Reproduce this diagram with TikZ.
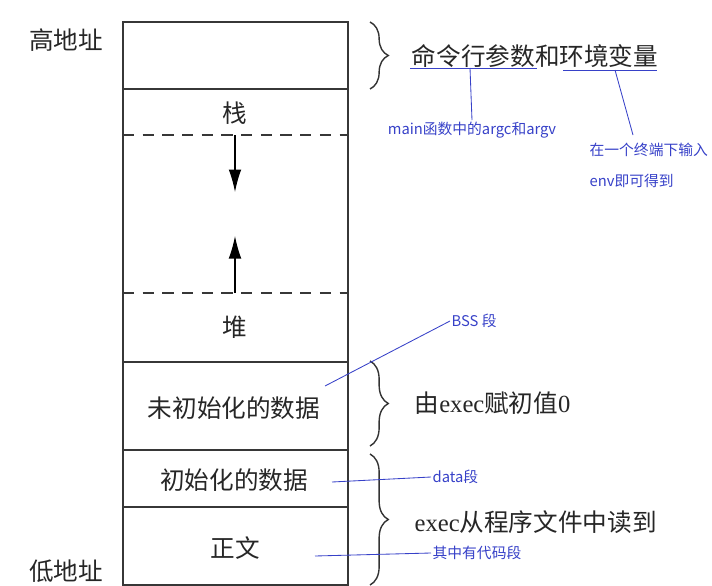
\documentclass[tikz,border=0pt]{standalone}
\usepackage{fontspec}
\newfontfamily\cjk{Noto Sans CJK SC}
\newfontfamily\serifl{Liberation Serif}
\usetikzlibrary{arrows.meta,decorations.pathreplacing,positioning}
\definecolor{memline}{RGB}{55,55,55}
\definecolor{noteblue}{RGB}{55,65,200}

\begin{document}
\begin{tikzpicture}[x=0.025cm,y=-0.025cm,
  every node/.style={font=\cjk\fontsize{17.5}{20}\selectfont,text=black!85,inner sep=1pt},
  note/.style={font=\cjk\fontsize{10.5}{12}\selectfont,text=noteblue},
  noteline/.style={draw=noteblue,line width=0.6pt},
  sepline/.style={draw=memline,line width=1.3pt},
  gapline/.style={draw=memline,line width=1.6pt,dash pattern=on 8pt off 6pt},
  growarrow/.style={draw=black,line width=0.8pt,-{Latex[length=16pt,width=9pt]}},
  rbrace/.style={draw=black!80,line width=1pt,decorate,decoration={brace,amplitude=13pt}}]
\useasboundingbox (0,0) rectangle (712,586);
% memory layout
\draw[sepline] (123,22) rectangle (348,585);
\draw[sepline] (123,89) -- (348,89);
\draw[sepline] (123,362) -- (348,362);
\draw[sepline] (123,450) -- (348,450);
\draw[sepline] (123,507) -- (348,507);
\draw[gapline] (123,135) -- (348,135);
\draw[gapline] (123,293) -- (348,293);
\coordinate (stacktop) at (235,135);
\coordinate (stackend) at (235,192);
\coordinate (heaptop) at (235,293);
\coordinate (heapend) at (235,236);
\draw[growarrow] (stacktop) -- (stackend);
\draw[growarrow] (heaptop) -- (heapend);
% segment names
\node (hi) at (66,40) {高地址};
\node (lo) at (66,571) {低地址};
\node (stack) at (235,113) {栈};
\node (heap) at (235,327) {堆};
\node (bss) at (234,408) {未初始化的数据};
\node (data) at (234,480) {初始化的数据};
\node (text) at (235,548) {正文};
% braces
\draw[rbrace] (370,22) -- (370,89);
\draw[rbrace] (370,361) -- (370,446);
\draw[rbrace] (370,454) -- (370,585);
\node (args) at (535,56) {命令行参数和环境变量};
\node[anchor=west] (bssinit) at (413,403) {由{\serifl exec}赋初值{\serifl 0}};
\node[anchor=west] (fromfile) at (413,522) {{\serifl exec}从程序文件中读到};
% blue notes
\node[note] (argvnote) at (472,130) {main函数中的argc和argv};
\node[note,anchor=west] (envnote) at (588,150) {在一个终端下输入};
\node[note,anchor=west] (envnote2) at (588,181) {env即可得到};
\node[note,anchor=west] (bssnote) at (450,321) {BSS 段};
\node[note,anchor=west] (datanote) at (431,477) {data段};
\node[note,anchor=west] (codenote) at (431,553) {其中有代码段};
\coordinate (ul1a) at (410,68);
\coordinate (ul1b) at (537,68);
\coordinate (ul2a) at (563,70);
\coordinate (ul2b) at (657,70);
\coordinate (argvtop) at (470,68);
\coordinate (envtop) at (615,70);
\coordinate (envend) at (633,135);
\coordinate (bssend) at (325,386);
\coordinate (dataend) at (332,482);
\coordinate (codeend) at (315,556);
\draw[noteline] (ul1a) -- (ul1b);
\draw[noteline] (ul2a) -- (ul2b);
\draw[noteline] (argvtop) -- (argvnote.north);
\draw[noteline] (envtop) -- (envend);
\draw[noteline] (bssnote.west) -- (bssend);
\draw[noteline] (datanote.west) -- (dataend);
\draw[noteline] (codenote.west) -- (codeend);
\end{tikzpicture}
\end{document}
